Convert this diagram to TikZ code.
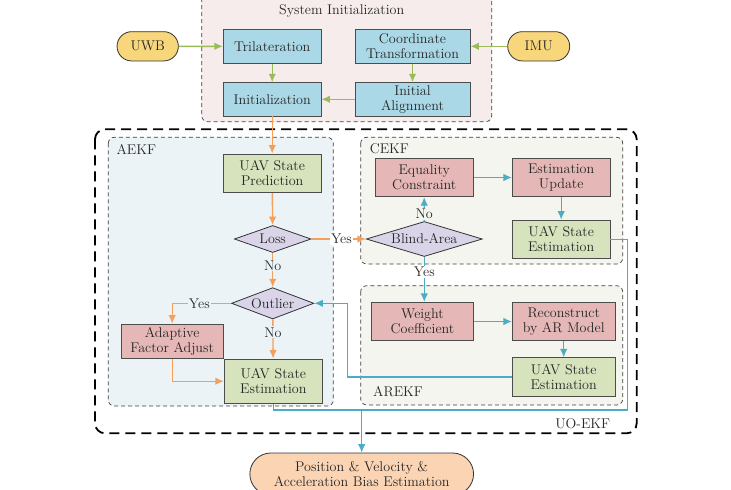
\documentclass[tikz,border=0pt]{standalone}
\usetikzlibrary{shapes.geometric,shapes.misc,arrows.meta}
\definecolor{cblue}{RGB}{170,216,230}
\definecolor{cgreenbox}{RGB}{214,227,188}
\definecolor{credbox}{RGB}{229,184,183}
\definecolor{cdiam}{RGB}{218,212,232}
\definecolor{cyel}{RGB}{248,214,124}
\definecolor{cpos}{RGB}{251,212,180}
\definecolor{csys}{RGB}{246,236,236}
\definecolor{caekf}{RGB}{236,243,246}
\definecolor{cekfbg}{RGB}{244,245,238}
\definecolor{agreen}{RGB}{155,187,89}
\definecolor{aorange}{RGB}{245,160,90}
\definecolor{acyan}{RGB}{75,172,198}
\begin{document}
\begin{tikzpicture}[x=1pt,y=-1pt,
  every node/.style={font=\fontsize{14.1}{14.6}\selectfont, text=black!85},
  box/.style={draw=black!70, line width=0.8pt, rectangle, align=center, inner sep=1pt},
  pill/.style={draw=black!80, line width=0.8pt, rounded rectangle, align=center, inner sep=1pt},
  dia/.style={draw=black!80, line width=0.8pt, diamond, fill=cdiam, inner sep=0pt},
  region/.style={draw=black!75, line width=0.7pt, dash pattern=on 4pt off 3pt, rounded corners=6pt},
  garr/.style={draw=agreen, line width=1.4pt, -{Latex[length=8.5pt,width=7.5pt]}},
  oarr/.style={draw=aorange, line width=1.4pt, -{Latex[length=8.5pt,width=7.5pt]}},
  carr/.style={draw=acyan, line width=1.4pt, -{Latex[length=8.5pt,width=7.5pt]}},
  cline/.style={draw=acyan, line width=1.4pt},
  lab/.style={inner sep=1pt}
]
\useasboundingbox (0,0) rectangle (731,490);
\fill[white] (0,0) rectangle (731,490);

% regions
\draw[region, fill=csys] (201.7,-8) rectangle (491.7,121.7);
\node (systitle) at (341.7,11) {System Initialization};
\draw[black, line width=1.8pt, dash pattern=on 10pt off 6pt, rounded corners=10pt] (95,129.3) rectangle (636.7,433.3);
\draw[region, fill=caekf] (108.3,137.3) rectangle (333.3,406);
\draw[region, fill=cekfbg] (360.7,137.3) rectangle (622.7,264);
\draw[region, fill=cekfbg] (360.7,285.7) rectangle (622.7,405);
\node[anchor=west] (aekflab) at (113,149.3) {AEKF};
\node[anchor=west] (cekflab) at (366.3,148.3) {CEKF};
\node[anchor=west] (arekflab) at (369.7,391.7) {AREKF};
\node[anchor=east] (uoekflab) at (613.7,424) {UO-EKF};

% system initialization
\node[pill, fill=cyel, minimum width=63.3pt, minimum height=29.3pt] (uwb) at (147.7,46.3) {UWB};
\node[pill, fill=cyel, minimum width=64pt, minimum height=29.3pt] (imu) at (538.7,46.3) {IMU};
\node[box, fill=cblue, minimum width=97.7pt, minimum height=34pt] (tri) at (272.2,46.3) {Trilateration};
\node[box, fill=cblue, minimum width=115pt, minimum height=34pt] (coord) at (412.5,46.3) {Coordinate\\Transformation};
\node[box, fill=cblue, minimum width=97.7pt, minimum height=33.3pt] (init) at (272.2,99.3) {Initialization};
\node[box, fill=cblue, minimum width=115pt, minimum height=33.3pt] (align) at (412.5,99.3) {Initial\\Alignment};

% AEKF
\node[box, fill=cgreenbox, minimum width=97.7pt, minimum height=38.7pt] (pred) at (272.2,173.3) {UAV State\\Prediction};
\node[dia, shape aspect=2.84, minimum width=76.7pt, minimum height=27pt] (loss) at (272.7,239) {Loss};
\node[dia, shape aspect=2.63, minimum width=82.4pt, minimum height=31.3pt] (outlier) at (272.7,303.3) {Outlier};
\node[box, fill=credbox, minimum width=102.3pt, minimum height=34.3pt] (adapt) at (172.2,341.2) {Adaptive\\Factor Adjust};
\node[box, fill=cgreenbox, minimum width=98pt, minimum height=44.3pt] (estA) at (273.3,381.2) {UAV State\\Estimation};

% CEKF
\node[box, fill=credbox, minimum width=98.3pt, minimum height=38.4pt] (eq) at (424.2,177.5) {Equality\\Constraint};
\node[box, fill=credbox, minimum width=97.7pt, minimum height=38.4pt] (upd) at (561.2,177.5) {Estimation\\Update};
\node[box, fill=cgreenbox, minimum width=97.7pt, minimum height=38.3pt] (estC) at (561.2,239.2) {UAV State\\Estimation};
\node[dia, shape aspect=3.31, minimum width=116pt, minimum height=35pt] (blind) at (424.3,239) {Blind-Area};

% AREKF
\node[box, fill=credbox, minimum width=102.4pt, minimum height=38.4pt] (weight) at (422.5,321.5) {Weight\\Coefficient};
\node[box, fill=credbox, minimum width=102.7pt, minimum height=38.4pt] (recon) at (563.7,321.5) {Reconstruct\\by AR Model};
\node[box, fill=cgreenbox, minimum width=102.7pt, minimum height=38.3pt] (estR) at (563.7,376.9) {UAV State\\Estimation};

% output
\node[pill, fill=cpos, minimum width=225.7pt, minimum height=42pt] (pos) at (361.7,474) {Position \& Velocity \&\\Acceleration Bias Estimation};

% connectors: init
\draw[garr] (uwb) -- (tri);
\draw[garr] (imu) -- (coord);
\draw[garr] (tri) -- (init);
\draw[garr] (coord) -- (align);
\draw[garr] (align) -- (init);

% AEKF connectors
\draw[oarr] (init) -- (pred);
\draw[oarr] (pred) -- (loss);
\draw[oarr] (loss) -- node[lab, fill=caekf, pos=0.37] (lossno) {No} (outlier);
\draw[oarr] (loss.east) -- node[lab, fill=white, pos=0.55] (lossyes) {Yes} (blind.west);
\draw[oarr] (outlier.west) -| node[lab, fill=caekf, pos=0.27] (outyes) {Yes} (adapt.north);
\draw[oarr] (outlier) -- node[lab, fill=caekf, pos=0.33] (outno) {No} (estA);
\draw[oarr] (adapt.south) |- (estA.west);

% CEKF connectors
\draw[carr] (blind.north) -- node[lab, fill=cekfbg, pos=0.3] (blindno) {No} (eq.south);
\draw[carr] (eq) -- (upd);
\draw[carr] (upd) -- (estC);
\draw[carr] (blind.south) -- node[lab, fill=white, pos=0.34] (blindyes) {Yes} (blind.south |- weight.north);

% AREKF connectors
\draw[carr] (weight) -- (recon);
\draw[carr] (recon) -- (estR);
\coordinate (fb) at (347.3,376.9);
\draw[carr] (estR.west) -- (fb) |- (outlier.east);

% output bus
\coordinate (rc) at (627.3,410);
\coordinate (bus) at (361.7,410);
\draw[cline] (estC.east) -| (rc) -- (bus);
\draw[cline] (estA.south) |- (bus);
\draw[carr] (bus) -- (pos.north);
\end{tikzpicture}
\end{document}
